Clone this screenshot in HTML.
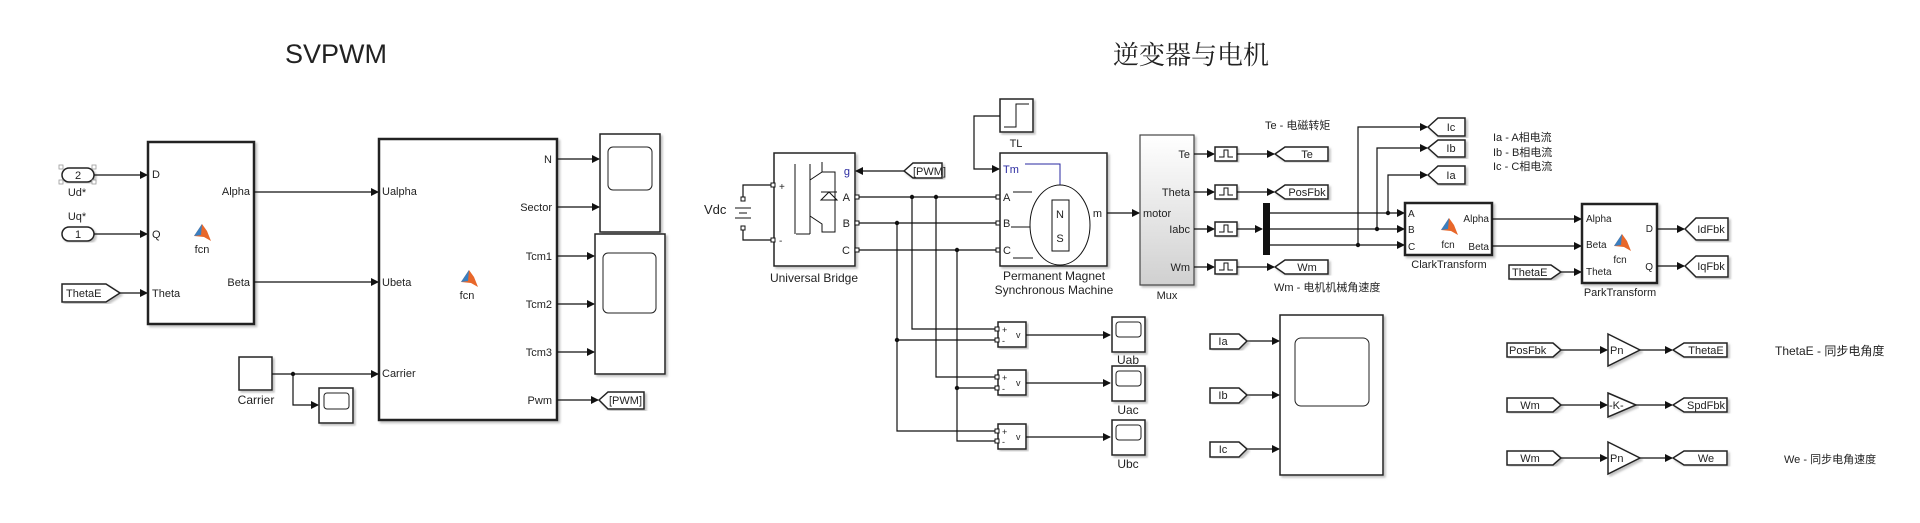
<!DOCTYPE html>
<html><head><meta charset="utf-8"><style>
html,body{margin:0;padding:0;background:#fff;}
svg{display:block;font-family:"Liberation Sans","Noto Sans CJK SC",sans-serif;}
text{fill:#222;}
.b{fill:#fff;stroke:#222;stroke-width:1.5;}
.bt{fill:#fff;stroke:#222;stroke-width:2.5;}
.w{fill:none;stroke:#111;stroke-width:1.2;}
.s{font-size:11px;}
.m{font-size:12px;}
</style></head><body>
<svg width="1920" height="523" viewBox="0 0 1920 523" xmlns="http://www.w3.org/2000/svg">
<defs>
<marker id="a" markerWidth="8" markerHeight="8" refX="7" refY="4" orient="auto" markerUnits="userSpaceOnUse"><path d="M0,0 L8,4 L0,8 z" fill="#111"/></marker>
<filter id="sh"><feDropShadow dx="2" dy="2" stdDeviation="1" flood-color="#999" flood-opacity="0.6"/></filter>
<linearGradient id="g" x1="0" y1="0" x2="0" y2="1"><stop offset="0" stop-color="#fff"/><stop offset="1" stop-color="#d0d0d0"/></linearGradient>
<g id="ml"><path d="M-8,3 L0,-9 L5,-2 L9,8 L2,4 z" fill="#e8672a"/><path d="M-8,3 L0,-9 L-1,2 z" fill="#3a7fc0"/></g>
<g id="zoh"><rect x="0" y="-7" width="22" height="14" class="b" filter="url(#sh)"/><path d="M4,3 H9 V-4 H13 V3 H18" fill="none" stroke="#111" stroke-width="1"/></g>
<g id="scp"><rect x="0" y="0" width="33" height="35" class="b" filter="url(#sh)"/><rect x="4" y="5" width="25" height="15" rx="3" fill="#fff" stroke="#222"/></g>
</defs>

<!-- titles -->
<text x="336" y="63" font-size="27" text-anchor="middle">SVPWM</text>
<text x="1191" y="64" font-size="26" text-anchor="middle" font-family="Noto Serif CJK SC,serif">逆变器与电机</text>

<!-- ===== SVPWM ===== -->
<rect x="62" y="168" width="32" height="14" rx="7" class="b" filter="url(#sh)"/><text x="78" y="179" class="s" text-anchor="middle">2</text>
<g fill="#fff" stroke="#999" stroke-width="0.8"><rect x="59" y="165" width="4" height="4"/><rect x="92" y="165" width="4" height="4"/><rect x="59" y="180" width="4" height="4"/><rect x="92" y="180" width="4" height="4"/></g>
<text x="77" y="196" class="s" text-anchor="middle">Ud*</text>
<text x="77" y="220" class="s" text-anchor="middle">Uq*</text>
<rect x="62" y="227" width="32" height="14" rx="7" class="b" filter="url(#sh)"/><text x="78" y="238" class="s" text-anchor="middle">1</text>
<path d="M62,284 H106 L120,293 L106,302 H62 z" class="b" filter="url(#sh)"/><text x="66" y="297" class="s">ThetaE</text>
<path d="M94,175 H147" class="w" marker-end="url(#a)"/>
<path d="M94,234 H147" class="w" marker-end="url(#a)"/>
<path d="M120,293 H147" class="w" marker-end="url(#a)"/>
<rect x="148" y="142" width="106" height="182" class="bt" filter="url(#sh)"/>
<text x="152" y="178" class="s">D</text><text x="152" y="238" class="s">Q</text><text x="152" y="297" class="s">Theta</text>
<text x="250" y="195" class="s" text-anchor="end">Alpha</text><text x="250" y="286" class="s" text-anchor="end">Beta</text>
<use href="#ml" x="202" y="233"/><text x="202" y="253" class="s" text-anchor="middle">fcn</text>
<path d="M254,192 H378" class="w" marker-end="url(#a)"/>
<path d="M254,282 H378" class="w" marker-end="url(#a)"/>
<rect x="379" y="139" width="178" height="281" class="bt" filter="url(#sh)"/>
<text x="382" y="195" class="s">Ualpha</text><text x="382" y="286" class="s">Ubeta</text><text x="382" y="377" class="s">Carrier</text>
<text x="552" y="163" class="s" text-anchor="end">N</text><text x="552" y="211" class="s" text-anchor="end">Sector</text>
<text x="552" y="260" class="s" text-anchor="end">Tcm1</text><text x="552" y="308" class="s" text-anchor="end">Tcm2</text>
<text x="552" y="356" class="s" text-anchor="end">Tcm3</text><text x="552" y="404" class="s" text-anchor="end">Pwm</text>
<use href="#ml" x="469" y="279"/><text x="467" y="299" class="s" text-anchor="middle">fcn</text>
<path d="M557,159 H599" class="w" marker-end="url(#a)"/>
<path d="M557,207 H599" class="w" marker-end="url(#a)"/>
<path d="M557,256 H594" class="w" marker-end="url(#a)"/>
<path d="M557,304 H594" class="w" marker-end="url(#a)"/>
<path d="M557,352 H594" class="w" marker-end="url(#a)"/>
<path d="M557,400 H598" class="w" marker-end="url(#a)"/>
<rect x="600" y="134" width="60" height="98" class="b" filter="url(#sh)"/><rect x="608" y="147" width="44" height="43" rx="5" fill="#fff" stroke="#222"/>
<rect x="595" y="234" width="70" height="140" class="b" filter="url(#sh)"/><rect x="603" y="253" width="53" height="60" rx="5" fill="#fff" stroke="#222"/>
<path d="M599,400 L608,392 H644 V409 H608 z" class="b" filter="url(#sh)"/><text x="609" y="404" class="s">[PWM]</text>
<rect x="239" y="357" width="33" height="33" class="b" filter="url(#sh)"/><text x="256" y="404" class="m" text-anchor="middle">Carrier</text>
<path d="M272,374 H378" class="w" marker-end="url(#a)"/>
<path d="M293,374 V405 H318" class="w" marker-end="url(#a)"/><circle cx="293" cy="374" r="2.2" fill="#111"/>
<rect x="319" y="388" width="34" height="35" class="b" filter="url(#sh)"/><rect x="324" y="393" width="25" height="16" rx="3" fill="#fff" stroke="#222"/>

<!-- ===== Inverter & motor ===== -->
<text x="704" y="214" font-size="13">Vdc</text>
<path d="M772,185 H743 V198 M743,227 V240 H772" class="w"/>
<rect x="741" y="197" width="4" height="4" fill="#fff" stroke="#111"/><rect x="741" y="226" width="4" height="4" fill="#fff" stroke="#111"/>
<path d="M735,208 H751 M739,213 H747 M735,218 H751" stroke="#111" stroke-width="1"/>
<rect x="774" y="153" width="81" height="113" class="b" filter="url(#sh)"/>
<g stroke="#111" stroke-width="1" fill="none">
<path d="M795,164 V234 M810,164 V234 M796,234 H810"/>
<path d="M810,180 L822,172 V162 M822,172 H835 V232 H822 V224 L810,216"/>
<path d="M829,192 L837,200 H821 z M821,192 H837"/>
</g>
<rect x="771" y="183" width="4" height="4" fill="#fff" stroke="#111"/><rect x="771" y="238" width="4" height="4" fill="#fff" stroke="#111"/>
<text x="779" y="190" font-size="10">+</text><text x="779" y="244" font-size="10">-</text>
<text x="850" y="175" class="s" text-anchor="end" fill="#2a2aa0" style="fill:#2a2aa0">g</text>
<text x="850" y="201" class="s" text-anchor="end">A</text><text x="850" y="227" class="s" text-anchor="end">B</text><text x="850" y="254" class="s" text-anchor="end">C</text>
<g fill="#fff" stroke="#111"><rect x="855" y="195" width="4" height="4"/><rect x="855" y="221" width="4" height="4"/><rect x="855" y="248" width="4" height="4"/>
<rect x="996" y="195" width="4" height="4"/><rect x="996" y="221" width="4" height="4"/><rect x="996" y="248" width="4" height="4"/></g>
<text x="814" y="282" class="m" text-anchor="middle">Universal Bridge</text>
<path d="M904,171 L913,163 H942 V178 H913 z" class="b" filter="url(#sh)"/><text x="913" y="175" class="s">[PWM]</text>
<path d="M904,171 H856" class="w" marker-end="url(#a)"/>
<path d="M859,197 H996 M859,223 H996 M859,250 H996" class="w"/>
<circle cx="912" cy="197" r="2.2" fill="#111"/><circle cx="936" cy="197" r="2.2" fill="#111"/><circle cx="897" cy="223" r="2.2" fill="#111"/><circle cx="957" cy="250" r="2.2" fill="#111"/>
<path d="M912,197 V329 H996 M936,197 V377 H996 M897,223 V431 H996 M897,340 H996 M957,250 V441 H996 M957,388 H996" class="w"/>
<circle cx="897" cy="340" r="2.2" fill="#111"/><circle cx="957" cy="388" r="2.2" fill="#111"/>
<g id="vs"><rect x="998" y="322" width="28" height="25" class="b" filter="url(#sh)"/></g>
<rect x="998" y="370" width="28" height="25" class="b" filter="url(#sh)"/>
<rect x="998" y="424" width="28" height="25" class="b" filter="url(#sh)"/>
<g fill="#fff" stroke="#111"><rect x="995" y="327" width="4" height="4"/><rect x="995" y="338" width="4" height="4"/><rect x="995" y="375" width="4" height="4"/><rect x="995" y="386" width="4" height="4"/><rect x="995" y="429" width="4" height="4"/><rect x="995" y="439" width="4" height="4"/></g>
<g font-size="9"><text x="1002" y="333">+</text><text x="1002" y="344">-</text><text x="1016" y="338">v</text>
<text x="1002" y="381">+</text><text x="1002" y="392">-</text><text x="1016" y="386">v</text>
<text x="1002" y="435">+</text><text x="1002" y="445">-</text><text x="1016" y="440">v</text></g>
<path d="M1026,335 H1110" class="w" marker-end="url(#a)"/>
<path d="M1026,383 H1110" class="w" marker-end="url(#a)"/>
<path d="M1026,437 H1110" class="w" marker-end="url(#a)"/>
<use href="#scp" x="1112" y="317"/><use href="#scp" x="1112" y="366"/><use href="#scp" x="1112" y="420"/>
<text x="1128" y="364" class="m" text-anchor="middle">Uab</text><text x="1128" y="414" class="m" text-anchor="middle">Uac</text><text x="1128" y="468" class="m" text-anchor="middle">Ubc</text>

<!-- TL -->
<rect x="1000" y="99" width="33" height="33" class="b" filter="url(#sh)"/><path d="M1004,127 H1016 V104 H1029" fill="none" stroke="#111"/>
<text x="1016" y="147" class="s" text-anchor="middle">TL</text>
<path d="M1000,116 H974 V169 H999" class="w" marker-end="url(#a)"/>
<!-- PMSM -->
<rect x="1000" y="153" width="107" height="113" class="b" filter="url(#sh)"/>
<text x="1003" y="173" class="s" style="fill:#2a2aa0">Tm</text>
<path d="M1025,164 H1060 V186" fill="none" stroke="#2a2aa0" stroke-width="1"/>
<text x="1003" y="201" class="s">A</text><text x="1003" y="227" class="s">B</text><text x="1003" y="254" class="s">C</text>
<ellipse cx="1060" cy="225" rx="30" ry="40" fill="#fff" stroke="#111"/>
<rect x="1052" y="200" width="17" height="51" fill="#fff" stroke="#111"/>
<text x="1060" y="218" font-size="11" text-anchor="middle">N</text><text x="1060" y="242" font-size="11" text-anchor="middle">S</text>
<path d="M1013,192 H1032 M1011,227 H1030 M1013,258 H1033" stroke="#111" stroke-width="1"/>
<text x="1102" y="217" class="s" text-anchor="end">m</text>
<text x="1054" y="280" class="m" text-anchor="middle">Permanent Magnet</text>
<text x="1054" y="294" class="m" text-anchor="middle">Synchronous Machine</text>
<path d="M1107,213 H1139" class="w" marker-end="url(#a)"/>
<!-- Mux -->
<rect x="1140" y="135" width="54" height="150" fill="url(#g)" stroke="#444" stroke-width="1.2" filter="url(#sh)"/>
<text x="1143" y="217" class="s">motor</text>
<text x="1190" y="158" class="s" text-anchor="end">Te</text><text x="1190" y="196" class="s" text-anchor="end">Theta</text>
<text x="1190" y="233" class="s" text-anchor="end">Iabc</text><text x="1190" y="271" class="s" text-anchor="end">Wm</text>
<text x="1167" y="299" class="s" text-anchor="middle">Mux</text>
<path d="M1194,154 H1214" class="w" marker-end="url(#a)"/><path d="M1194,192 H1214" class="w" marker-end="url(#a)"/>
<path d="M1194,229 H1214" class="w" marker-end="url(#a)"/><path d="M1194,267 H1214" class="w" marker-end="url(#a)"/>
<use href="#zoh" x="1215" y="154"/><use href="#zoh" x="1215" y="192"/><use href="#zoh" x="1215" y="229"/><use href="#zoh" x="1215" y="267"/>
<path d="M1237,154 H1274" class="w" marker-end="url(#a)"/><path d="M1237,192 H1274" class="w" marker-end="url(#a)"/>
<path d="M1237,229 H1262" class="w" marker-end="url(#a)"/><path d="M1237,267 H1274" class="w" marker-end="url(#a)"/>
<path d="M1275,154 L1285,147 H1328 V161 H1285 z" class="b" filter="url(#sh)"/><text x="1307" y="158" class="s" text-anchor="middle">Te</text>
<path d="M1275,192 L1285,185 H1328 V199 H1285 z" class="b" filter="url(#sh)"/><text x="1307" y="196" class="s" text-anchor="middle">PosFbk</text>
<path d="M1275,267 L1285,260 H1328 V274 H1285 z" class="b" filter="url(#sh)"/><text x="1307" y="271" class="s" text-anchor="middle">Wm</text>
<text x="1265" y="129" class="s">Te - 电磁转矩</text>
<text x="1274" y="291" class="s">Wm - 电机机械角速度</text>
<rect x="1263" y="203" width="7" height="52" fill="#111"/>
<path d="M1270,213 H1404" class="w" marker-end="url(#a)"/><path d="M1270,229 H1404" class="w" marker-end="url(#a)"/><path d="M1270,245 H1404" class="w" marker-end="url(#a)"/>
<path d="M1388,213 V175 H1427" class="w" marker-end="url(#a)"/><path d="M1377,229 V148 H1427" class="w" marker-end="url(#a)"/><path d="M1358,245 V127 H1427" class="w" marker-end="url(#a)"/>
<circle cx="1388" cy="213" r="2.2" fill="#111"/><circle cx="1377" cy="229" r="2.2" fill="#111"/><circle cx="1358" cy="245" r="2.2" fill="#111"/>
<path d="M1428,127 L1438,118 H1465 V136 H1438 z" class="b" filter="url(#sh)"/><text x="1451" y="131" class="s" text-anchor="middle">Ic</text>
<path d="M1428,148 L1438,140 H1465 V157 H1438 z" class="b" filter="url(#sh)"/><text x="1451" y="152" class="s" text-anchor="middle">Ib</text>
<path d="M1428,175 L1438,166 H1465 V184 H1438 z" class="b" filter="url(#sh)"/><text x="1451" y="179" class="s" text-anchor="middle">Ia</text>
<text x="1493" y="141" class="s">Ia - A相电流</text><text x="1493" y="156" class="s">Ib - B相电流</text><text x="1493" y="170" class="s">Ic - C相电流</text>
<!-- Clark -->
<rect x="1405" y="203" width="87" height="52" class="bt" filter="url(#sh)"/>
<text x="1408" y="217" font-size="10">A</text><text x="1408" y="233" font-size="10">B</text><text x="1408" y="250" font-size="10">C</text>
<text x="1489" y="222" font-size="10" text-anchor="end">Alpha</text><text x="1489" y="250" font-size="10" text-anchor="end">Beta</text>
<use href="#ml" x="1449" y="227"/><text x="1448" y="248" font-size="10" text-anchor="middle">fcn</text>
<text x="1449" y="268" class="s" text-anchor="middle">ClarkTransform</text>
<path d="M1492,219 H1581" class="w" marker-end="url(#a)"/><path d="M1492,246 H1581" class="w" marker-end="url(#a)"/>
<path d="M1509,265 H1551 L1561,272 L1551,279 H1509 z" class="b" filter="url(#sh)"/><text x="1512" y="276" class="s">ThetaE</text>
<path d="M1561,272 H1581" class="w" marker-end="url(#a)"/>
<rect x="1582" y="204" width="75" height="79" class="bt" filter="url(#sh)"/>
<text x="1586" y="222" font-size="10">Alpha</text><text x="1586" y="248" font-size="10">Beta</text><text x="1586" y="275" font-size="10">Theta</text>
<text x="1653" y="232" font-size="10" text-anchor="end">D</text><text x="1653" y="270" font-size="10" text-anchor="end">Q</text>
<use href="#ml" x="1622" y="243"/><text x="1620" y="263" font-size="10" text-anchor="middle">fcn</text>
<text x="1620" y="296" class="s" text-anchor="middle">ParkTransform</text>
<path d="M1657,229 H1684" class="w" marker-end="url(#a)"/><path d="M1657,266 H1684" class="w" marker-end="url(#a)"/>
<path d="M1685,229 L1696,218 H1728 V240 H1696 z" class="b" filter="url(#sh)"/><text x="1711" y="233" class="s" text-anchor="middle">IdFbk</text>
<path d="M1685,266 L1696,256 H1728 V277 H1696 z" class="b" filter="url(#sh)"/><text x="1711" y="270" class="s" text-anchor="middle">IqFbk</text>
<!-- big scope -->
<path d="M1247,341 H1279" class="w" marker-end="url(#a)"/><path d="M1247,395 H1279" class="w" marker-end="url(#a)"/><path d="M1247,449 H1279" class="w" marker-end="url(#a)"/>
<path d="M1210,334 H1239 L1247,341 L1239,349 H1210 z" class="b" filter="url(#sh)"/><text x="1223" y="345" class="s" text-anchor="middle">Ia</text>
<path d="M1210,388 H1239 L1247,395 L1239,403 H1210 z" class="b" filter="url(#sh)"/><text x="1223" y="399" class="s" text-anchor="middle">Ib</text>
<path d="M1210,442 H1239 L1247,449 L1239,457 H1210 z" class="b" filter="url(#sh)"/><text x="1223" y="453" class="s" text-anchor="middle">Ic</text>
<rect x="1280" y="315" width="103" height="160" class="b" filter="url(#sh)"/><rect x="1295" y="338" width="74" height="68" rx="6" fill="#fff" stroke="#222"/>
<!-- gains -->
<g>
<path d="M1507,343 H1553 L1561,350 L1553,357 H1507 z" class="b" filter="url(#sh)"/><text x="1509" y="354" class="s">PosFbk</text>
<path d="M1561,350 H1607" class="w" marker-end="url(#a)"/>
<path d="M1608,334 L1640,350 L1608,366 z" class="b" filter="url(#sh)"/><text x="1610" y="354" class="s">Pn</text>
<path d="M1640,350 H1672" class="w" marker-end="url(#a)"/>
<path d="M1673,350 L1684,343 H1727 V357 H1684 z" class="b" filter="url(#sh)"/><text x="1706" y="354" class="s" text-anchor="middle">ThetaE</text>
<path d="M1507,398 H1553 L1561,405 L1553,412 H1507 z" class="b" filter="url(#sh)"/><text x="1530" y="409" class="s" text-anchor="middle">Wm</text>
<path d="M1561,405 H1607" class="w" marker-end="url(#a)"/>
<path d="M1608,393 L1636,405 L1608,417 z" class="b" filter="url(#sh)"/><text x="1609" y="409" class="s">-K-</text>
<path d="M1636,405 H1672" class="w" marker-end="url(#a)"/>
<path d="M1673,405 L1684,398 H1727 V412 H1684 z" class="b" filter="url(#sh)"/><text x="1706" y="409" class="s" text-anchor="middle">SpdFbk</text>
<path d="M1507,451 H1553 L1561,458 L1553,465 H1507 z" class="b" filter="url(#sh)"/><text x="1530" y="462" class="s" text-anchor="middle">Wm</text>
<path d="M1561,458 H1607" class="w" marker-end="url(#a)"/>
<path d="M1608,442 L1640,458 L1608,474 z" class="b" filter="url(#sh)"/><text x="1610" y="462" class="s">Pn</text>
<path d="M1640,458 H1672" class="w" marker-end="url(#a)"/>
<path d="M1673,458 L1684,451 H1727 V465 H1684 z" class="b" filter="url(#sh)"/><text x="1706" y="462" class="s" text-anchor="middle">We</text>
</g>
<text x="1775" y="355" class="m">ThetaE - 同步电角度</text>
<text x="1784" y="463" class="s">We - 同步电角速度</text>
</svg>
</body></html>
